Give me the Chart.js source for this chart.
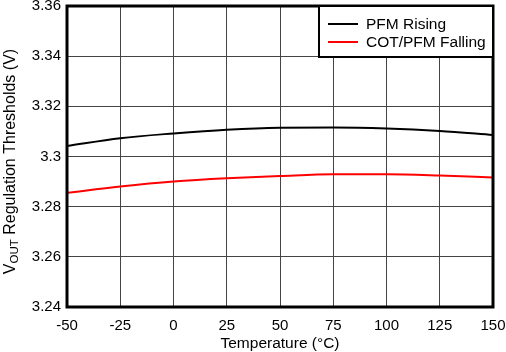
<!DOCTYPE html>
<html lang="en">
<head>
    <meta charset="UTF-8" />
    <title>VOUT Regulation Thresholds vs Temperature</title>
    <style>
        html, body { margin: 0; padding: 0; background: #fff; }
        #wrap { width: 506px; height: 352px; }
    </style>
    <script src="https://cdn.jsdelivr.net/npm/chart.js"></script>
</head>
<body>
<div id="wrap"><canvas id="chart" width="506" height="352"></canvas></div>
<script>
  const temps = [-50, -25, 0, 25, 50, 75, 100, 125, 150];
  const pfmRising = [3.3042, 3.3073, 3.3092, 3.3107, 3.3115, 3.3116, 3.3112, 3.3102, 3.3086];
  const cotPfmFalling = [3.2855, 3.2880, 3.2900, 3.2913, 3.2922, 3.2929, 3.2929, 3.2924, 3.2916];
  const seriesNames = ["PFM Rising", "COT/PFM Falling"];
  const seriesColors = ["#000000", "#ff0000"];
  const yTickLabels = ["3.24", "3.26", "3.28", "3.3", "3.32", "3.34", "3.36"];
  const xTickLabels = ["-50", "-25", "0", "25", "50", "75", "100", "125", "150"];

  const FONT = "'Liberation Sans', Arial, sans-serif";

  // frame, legend box and y title with subscript
  const extras = {
    id: "extras",
    afterDatasetsDraw(chart) {
      const { ctx, chartArea: a } = chart;
      ctx.save();
      ctx.strokeStyle = "#000";
      ctx.lineWidth = 3;
      ctx.strokeRect(a.left, a.top, a.right - a.left, a.bottom - a.top);

      // legend
      const bx = 319, by = a.top, bw = a.right - bx, bh = 51;
      ctx.fillStyle = "#fff";
      ctx.fillRect(bx, by, bw, bh);
      ctx.lineWidth = 2;
      ctx.strokeRect(bx, by, bw, bh);
      ctx.font = "15.5px " + FONT;
      ctx.textBaseline = "middle";
      ctx.textAlign = "left";
      const rows = [24, 42];
      chart.data.datasets.forEach((ds, i) => {
        ctx.strokeStyle = ds.borderColor;
        ctx.lineWidth = 2;
        ctx.beginPath();
        ctx.moveTo(328, rows[i]);
        ctx.lineTo(358, rows[i]);
        ctx.stroke();
        ctx.fillStyle = "#000";
        ctx.fillText(ds.label, 366, rows[i] + 1);
      });

      // y axis title
      ctx.translate(11, (a.top + a.bottom) / 2 + 5);
      ctx.rotate(-Math.PI / 2);
      const big = "16px " + FONT, small = "11.5px " + FONT;
      const parts = [["V", big, 0], ["OUT", small, 4], [" Regulation Thresholds (V)", big, 0]];
      let w = 0;
      parts.forEach(p => { ctx.font = p[1]; w += ctx.measureText(p[0]).width; });
      let x = -w / 2;
      ctx.fillStyle = "#000";
      parts.forEach(p => {
        ctx.font = p[1];
        ctx.fillText(p[0], x, p[2]);
        x += ctx.measureText(p[0]).width;
      });
      ctx.restore();
    }
  };

  new Chart(document.getElementById("chart"), {
    type: "line",
    data: {
      labels: temps,
      datasets: [
        {
          label: seriesNames[0],
          data: temps.map((t, i) => ({ x: t, y: pfmRising[i] })),
          borderColor: seriesColors[0],
          borderWidth: 2,
          pointRadius: 0,
          cubicInterpolationMode: "monotone",
          fill: false,
        },
        {
          label: seriesNames[1],
          data: temps.map((t, i) => ({ x: t, y: cotPfmFalling[i] })),
          borderColor: seriesColors[1],
          borderWidth: 2,
          pointRadius: 0,
          cubicInterpolationMode: "monotone",
          fill: false,
        },
      ],
    },
    options: {
      responsive: false,
      animation: false,
      layout: { padding: { top: 6, right: 13, left: 0, bottom: 0 } },
      plugins: { legend: { display: false }, tooltip: { enabled: false } },
      scales: {
        x: {
          type: "linear",
          min: -50,
          max: 150,
          afterFit(s) { s.height = 45; s.paddingLeft = 0; s.paddingRight = 0; },
          afterBuildTicks(s) { s.ticks = temps.map(v => ({ value: v })); },
          ticks: {
            color: "#000",
            font: { family: FONT, size: 15 },
            padding: 10,
            maxRotation: 0,
            autoSkip: false,
            callback: (v, i) => xTickLabels[i],
          },
          grid: { color: "#444", lineWidth: 1, drawTicks: false },
          border: { display: false },
          title: {
            display: true,
            text: "Temperature (°C)",
            color: "#000",
            font: { family: FONT, size: 15.5 },
            padding: { top: 0, bottom: -1 },
          },
        },
        y: {
          min: 3.24,
          max: 3.36,
          afterFit(s) { s.width = 67; s.paddingTop = 0; s.paddingBottom = 0; },
          afterBuildTicks(s) { s.ticks = yTickLabels.map(l => ({ value: parseFloat(l) })); },
          ticks: {
            color: "#000",
            font: { family: FONT, size: 15 },
            padding: 6,
            autoSkip: false,
            callback: (v, i) => yTickLabels[i],
          },
          grid: { color: "#444", lineWidth: 1, drawTicks: false },
          border: { display: false },
        },
      },
    },
    plugins: [extras],
  });
</script>
</body>
</html>
